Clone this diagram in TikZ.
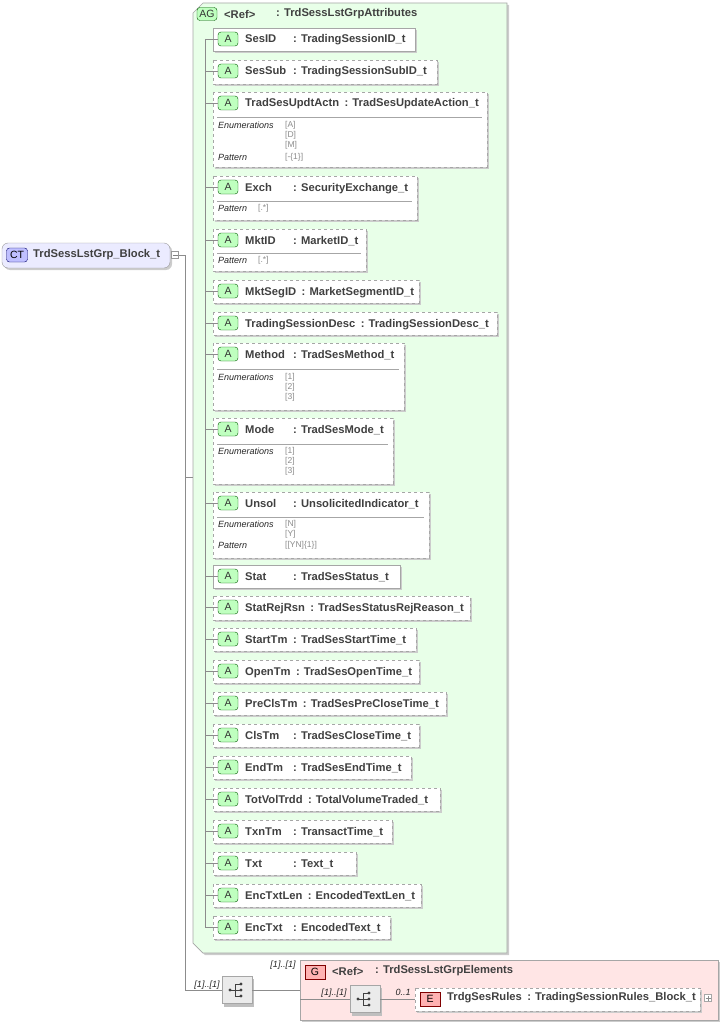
\documentclass[tikz,border=0pt]{standalone}
\usepackage{fontspec}
\setmainfont{Liberation Sans}
\usetikzlibrary{calc}
\begin{document}
\begin{tikzpicture}[x=1pt,y=-1pt,
  box/.style={draw=black!35,fill=white,line width=0.7pt},
  conn/.style={draw=black!45,line width=0.6pt},
  nm/.style={font=\fontsize{11.2}{12}\bfseries\selectfont,text=black!75,inner sep=0pt},
  badge/.style={draw=green!35!black,fill=green!25,rounded corners=3pt,minimum width=20pt,minimum height=14pt,inner sep=0pt,font=\fontsize{10.5}{11}\selectfont,text=black!80},
  small/.style={font=\fontsize{9}{10}\itshape\selectfont,text=black!85,inner sep=0pt,anchor=west},
  val/.style={font=\fontsize{8.5}{9}\selectfont,text=black!45,inner sep=0pt,anchor=west},
  card/.style={font=\fontsize{9}{10}\itshape\selectfont,text=black!85,inner sep=0pt}]
\useasboundingbox (0,0) rectangle (725,1027);
\newcommand\attr[7]{%
  \fill[black!20] (215,#2+2) rectangle (#4+2,#3+2);
  \draw[box,#5] (213,#2) rectangle (#4,#3);
  \node[badge] (#1b) at (228,#2+11) {A};
  \node[nm,anchor=base west] (#1) at (245,#2+15) {#6};
  \path let \p1=(#1.east) in node[nm,anchor=base west] (#1t) at ({max(\x1+5pt,293pt)},#2+15) {: #7};
  \draw[conn] (205,#2+11) -- (#1b.west);}
\newcommand\divl[2]{\draw[black!35,line width=0.6pt] (217,#1) -- (#2-5,#1);}
% CT node
\fill[black!20,rounded corners=6pt] (4,245) rectangle (172,270);
\draw[draw=black!40,fill=blue!8,rounded corners=6pt] (2,243) rectangle (170,268);
\node[draw=blue!40!black,fill=blue!25,rounded corners=3pt,minimum width=21pt,minimum height=14pt,inner sep=0pt,font=\fontsize{10.5}{11}\selectfont] (ctb) at (17,255) {CT};
\node[nm,anchor=west] (ct) at (33,255) {TrdSessLstGrp\_Block\_t};
\node[draw=black!40,fill=white,minimum size=7pt,inner sep=0pt] (minus) at (175,255) {};
\draw[black!50] (172.5,255) -- (177.5,255);
\coordinate (trunk) at (185,255);
\draw[conn] (minus.east) -- (trunk) -- (185,990);
% AG group
\fill[black!20] (205,5) -- (509,5) -- (509,955) -- (205,955) -- (195,945) -- (195,15) -- cycle;
\draw[draw=black!35,fill=green!9,line width=0.7pt] (203,3) -- (507,3) -- (507,953) -- (203,953) -- (193,943) -- (193,13) -- cycle;
\node[badge,minimum width=20pt,minimum height=13pt] (agb) at (207,14) {AG};
\node[nm,anchor=west] (ag) at (224,14) {<Ref>};
\node[nm,anchor=west] at (276,14) {: TrdSessLstGrpAttributes};
\draw[conn] (185,477) -- (193,477);
\draw[conn] (205,39) -- (205,927);
% attributes
\attr{a1}{28}{51}{415}{solid}{SesID}{TradingSessionID\_t}
\attr{a2}{60}{84}{437}{dashed}{SesSub}{TradingSessionSubID\_t}
\attr{a3}{92}{167}{487}{dashed}{TradSesUpdtActn}{TradSesUpdateAction\_t}
\divl{117}{487}
\node[small] at (218,125) {Enumerations};
\node[val] at (285,125) {[A]};\node[val] at (285,135) {[D]};\node[val] at (285,145) {[M]};
\node[small] at (218,157) {Pattern};\node[val] at (285,157) {[-\{1\}]};
\attr{a4}{176}{220}{417}{dashed}{Exch}{SecurityExchange\_t}
\divl{201}{417}
\node[small] at (218,208) {Pattern};\node[val] at (258,208) {[.*]};
\attr{a5}{229}{271}{366}{dashed}{MktID}{MarketID\_t}
\divl{253}{366}
\node[small] at (218,260) {Pattern};\node[val] at (258,260) {[.*]};
\attr{a6}{280}{303}{419}{dashed}{MktSegID}{MarketSegmentID\_t}
\attr{a7}{312}{335}{497}{dashed}{TradingSessionDesc}{TradingSessionDesc\_t}
\attr{a8}{343}{410}{404}{dashed}{Method}{TradSesMethod\_t}
\divl{369}{404}
\node[small] at (218,377) {Enumerations};
\node[val] at (285,377) {[1]};\node[val] at (285,387) {[2]};\node[val] at (285,397) {[3]};
\attr{a9}{418}{484}{393}{dashed}{Mode}{TradSesMode\_t}
\divl{444}{393}
\node[small] at (218,451) {Enumerations};
\node[val] at (285,451) {[1]};\node[val] at (285,461) {[2]};\node[val] at (285,471) {[3]};
\attr{a10}{492}{558}{429}{dashed}{Unsol}{UnsolicitedIndicator\_t}
\divl{517}{429}
\node[small] at (218,524) {Enumerations};
\node[val] at (285,524) {[N]};\node[val] at (285,534) {[Y]};
\node[small] at (218,545) {Pattern};\node[val] at (285,545) {[[YN]\{1\}]};
\attr{a11}{565}{588}{400}{solid}{Stat}{TradSesStatus\_t}
\attr{a12}{596}{620}{470}{dashed}{StatRejRsn}{TradSesStatusRejReason\_t}
\attr{a13}{628}{651}{416}{dashed}{StartTm}{TradSesStartTime\_t}
\attr{a14}{660}{683}{419}{dashed}{OpenTm}{TradSesOpenTime\_t}
\attr{a15}{692}{715}{446}{dashed}{PreClsTm}{TradSesPreCloseTime\_t}
\attr{a16}{724}{747}{419}{dashed}{ClsTm}{TradSesCloseTime\_t}
\attr{a17}{756}{779}{411}{dashed}{EndTm}{TradSesEndTime\_t}
\attr{a18}{788}{811}{440}{dashed}{TotVolTrdd}{TotalVolumeTraded\_t}
\attr{a19}{820}{843}{392}{dashed}{TxnTm}{TransactTime\_t}
\attr{a20}{852}{875}{356}{dashed}{Txt}{Text\_t}
\attr{a21}{884}{907}{421}{dashed}{EncTxtLen}{EncodedTextLen\_t}
\attr{a22}{916}{939}{390}{dashed}{EncTxt}{EncodedText\_t}
% sequence
\newcommand\seqicon[2]{%
  \fill[black!25] (#2) ++(-13,-11) rectangle ++(30,28);
  \node[draw=black!35,fill=black!8,minimum width=30pt,minimum height=27pt,inner sep=0pt] (#1) at (#2) {};
  \fill[black!75] (#2) ++(-7,0) circle (1.6);
  \draw[black!75,line width=0.8pt] (#2) ++(-7,0) -- ++(5,0) (#2) ++(-2,-6) -- ++(0,12)
     (#2) ++(-2,-6) -- ++(5,0) (#2) ++(-2,0) -- ++(5,0) (#2) ++(-2,6) -- ++(5,0);
  \fill[black!75] (#2) ++(4,-6) circle (1.6) (#2) ++(4,0) circle (1.6) (#2) ++(4,6) circle (1.6);}
\seqicon{seq1}{237,990}
\draw[conn] (trunk |- seq1) -- (seq1.west);
\node[card] at (207,985) {[1]..[1]};
% G group
\fill[black!20] (302,962) rectangle (720,1022);
\draw[draw=black!35,fill=red!10,line width=0.7pt] (300,960) rectangle (718,1020);
\draw[conn] (seq1.east) -- (300,990);
\node[card] at (283,965) {[1]..[1]};
\node[draw=red!50!black,fill=red!30,minimum width=20pt,minimum height=14pt,inner sep=0pt,font=\fontsize{10.5}{11}\selectfont] (gb) at (315,972) {G};
\node[nm,anchor=west] at (332,971) {<Ref>};
\node[nm,anchor=west] at (375,971) {: TrdSessLstGrpElements};
\seqicon{seq2}{365,999}
\draw[conn] (300,999) -- (seq2.west);
\node[card] at (334,993) {[1]..[1]};
\draw[conn] (seq2.east) -- (415,999);
\node[card] at (403,992) {0..1};
\fill[black!20] (417,990) rectangle (702,1013);
\draw[box,dashed] (415,988) rectangle (700,1011);
\node[draw=red!50!black,fill=red!30,minimum width=20pt,minimum height=14pt,inner sep=0pt,font=\fontsize{10.5}{11}\selectfont] (eb) at (430,999) {E};
\node[nm,anchor=west] (el) at (447,998) {TrdgSesRules};
\node[nm,anchor=west] at ($(el.east)+(5,0)$) {: TradingSessionRules\_Block\_t};
\node[draw=black!35,fill=white,minimum size=7pt,inner sep=0pt] (plus) at (708,998) {};
\draw[black!45] (705.5,998) -- (710.5,998) (708,995.5) -- (708,1000.5);
\end{tikzpicture}
\end{document}
